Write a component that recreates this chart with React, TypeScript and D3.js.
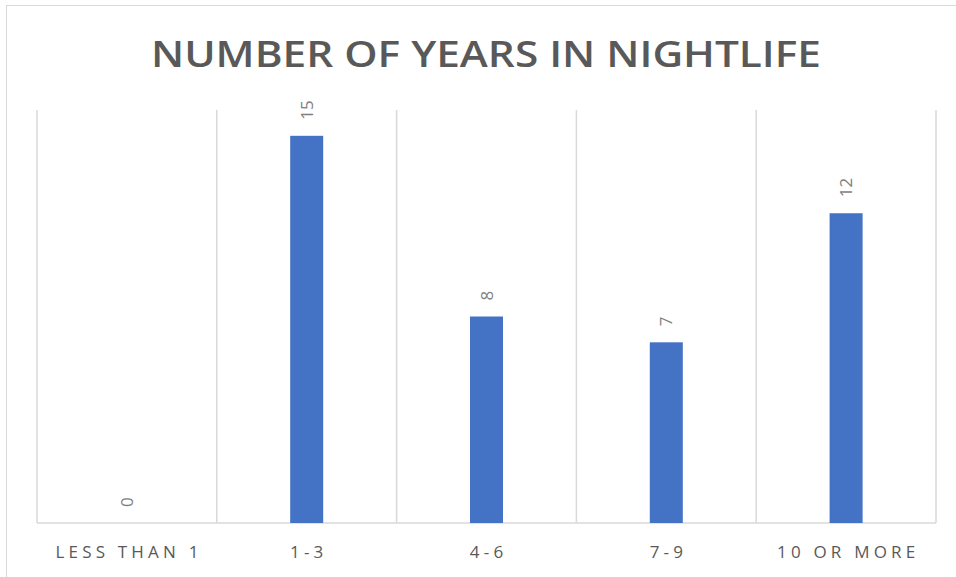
import React from "react";
import * as d3 from "d3";

const categories = ["LESS THAN 1", "1-3", "4-6", "7-9", "10 OR MORE"];
const counts = [0, 15, 8, 7, 12];
const chartTitle = "NUMBER OF YEARS IN NIGHTLIFE";

const W = 956;
const H = 577;
const margin = { left: 37, right: 20, top: 110, bottom: 54 };

export default function App() {
  const x = d3
    .scaleBand<string>()
    .domain(categories)
    .range([margin.left, W - margin.right])
    .paddingInner(0)
    .paddingOuter(0);
  const y = d3
    .scaleLinear()
    .domain([0, 16])
    .range([H - margin.bottom, margin.top]);

  const barW = 33;
  const base = y(0);
  const edges = categories.map((c) => x(c)!).concat([x(categories[categories.length - 1])! + x.bandwidth()]);
  const tickSpacing = 4.2;

  return (
    <svg
      width={W}
      height={H}
      style={{ position: "absolute", left: 0, top: 0, background: "#fff" }}
      fontFamily="'Open Sans', 'Noto Sans', sans-serif"
    >
      <rect x={6.5} y={5.5} width={W} height={H} fill="#fff" stroke="#d9d9d9" strokeWidth={1} />
      <text
        x={486}
        y={67}
        textAnchor="middle"
        fontSize={36}
        fontWeight={600}
        fill="#595959"
        textLength={670}
        lengthAdjust="spacingAndGlyphs"
      >
        {chartTitle}
      </text>
      {edges.map((e, i) => (
        <line key={i} x1={e} x2={e} y1={margin.top} y2={base} stroke="#d9d9d9" strokeWidth={1.5} />
      ))}
      <line x1={margin.left} x2={W - margin.right} y1={base} y2={base} stroke="#d9d9d9" strokeWidth={1.5} />
      {categories.map((c, i) => {
        const cx = x(c)! + x.bandwidth() / 2;
        const top = y(counts[i]);
        return (
          <g key={c}>
            <rect x={cx - barW / 2} y={top} width={barW} height={base - top} fill="#4472c4" />
            <text
              transform={`translate(${cx + 6},${top - 16}) rotate(-90)`}
              fontSize={17}
              fill="#7f7f7f"
            >
              {counts[i]}
            </text>
            <text
              x={cx + tickSpacing / 2}
              y={558}
              textAnchor="middle"
              fontSize={17}
              letterSpacing={tickSpacing}
              fill="#595959"
            >
              {c}
            </text>
          </g>
        );
      })}
    </svg>
  );
}
